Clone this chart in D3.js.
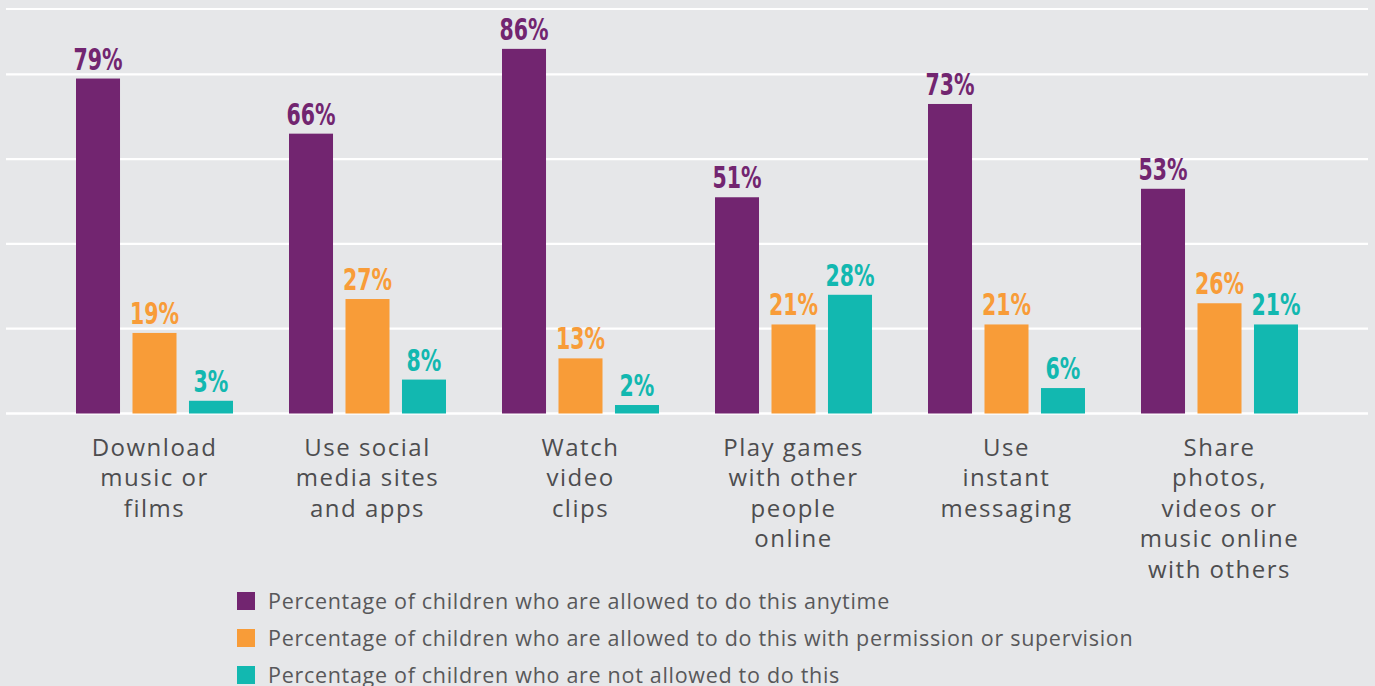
<!DOCTYPE html>
<html>
<head>
<meta charset="utf-8">
<script src="https://cdn.jsdelivr.net/npm/d3@7/dist/d3.min.js"></script>
<style>
  html, body { margin: 0; padding: 0; background: #e6e7e9; }
  svg { display: block; }
</style>
</head>
<body>
<svg id="chart" width="1375" height="686"></svg>
<script>
// Activities, each label split into display lines
const categories = [
  ["Download", "music or", "films"],
  ["Use social", "media sites", "and apps"],
  ["Watch", "video", "clips"],
  ["Play games", "with other", "people", "online"],
  ["Use", "instant", "messaging"],
  ["Share", "photos,", "videos or", "music online", "with others"]
];

const seriesNames = [
  "Percentage of children who are allowed to do this anytime",
  "Percentage of children who are allowed to do this with permission or supervision",
  "Percentage of children who are not allowed to do this"
];

const anytime     = [79, 66, 86, 51, 73, 53];
const supervised  = [19, 27, 13, 21, 21, 26];
const notAllowed  = [3, 8, 2, 28, 6, 21];

const gridValues = [0, 20, 40, 60, 80];

const colors = ["#722570", "#f89c38", "#12b8b0"];

const svg = d3.select("#chart");

const baseY = 413.5;
const frameTop = 9;
const y = d3.scaleLinear().domain([0, 100]).range([baseY, baseY - 424]);

const keys = categories.map((c, i) => i);
const x0 = d3.scaleBand().domain(keys).range([48, 1326])
  .paddingInner(0.263).paddingOuter(0.1315);
const x1 = d3.scaleBand().domain([0, 1, 2]).range([0, x0.bandwidth()])
  .paddingInner(0.221).paddingOuter(0);

const series = [anytime, supervised, notAllowed];

// Gridlines and top frame rule
const grid = svg.append("g");
grid.selectAll("line.grid")
  .data(gridValues)
  .join("line")
  .attr("x1", 6).attr("x2", 1368)
  .attr("y1", d => y(d)).attr("y2", d => y(d))
  .attr("stroke", "#ffffff")
  .attr("stroke-width", d => d === 0 ? 2.6 : 2.2);
grid.append("line")
  .attr("x1", 6).attr("x2", 1368)
  .attr("y1", frameTop).attr("y2", frameTop)
  .attr("stroke", "#ffffff").attr("stroke-width", 2.2);

// Bars and value labels
const groups = svg.append("g").selectAll("g")
  .data(keys)
  .join("g")
  .attr("transform", i => `translate(${x0(i)},0)`);

const cells = groups.selectAll("g.cell")
  .data(i => series.map((s, k) => ({ k, v: s[i] })))
  .join("g").attr("class", "cell");

cells.append("rect")
  .attr("x", d => x1(d.k))
  .attr("width", x1.bandwidth())
  .attr("y", d => y(d.v))
  .attr("height", d => y(0) - y(d.v))
  .attr("fill", d => colors[d.k]);

// Tall, narrow figures: condensed bold squeezed horizontally
cells.append("text")
  .attr("transform", d => `translate(${x1(d.k) + x1.bandwidth() / 2},${y(d.v) - 9}) scale(0.76,1)`)
  .attr("text-anchor", "middle")
  .attr("font-family", "'DejaVu Sans Condensed', 'DejaVu Sans', sans-serif")
  .attr("font-stretch", "condensed")
  .attr("font-weight", "bold")
  .attr("font-size", 30)
  .attr("fill", d => colors[d.k])
  .text(d => d.v + "%");

// Category labels under each group
const catLabels = svg.append("g").selectAll("text")
  .data(keys)
  .join("text")
  .attr("x", i => x0(i) + x0.bandwidth() / 2)
  .attr("y", 456)
  .attr("text-anchor", "middle")
  .attr("font-family", "'Open Sans', 'Noto Sans', sans-serif")
  .attr("font-size", 24)
  .attr("letter-spacing", 1.5)
  .attr("fill", "#4d4d4f");
catLabels.selectAll("tspan")
  .data(i => categories[i].map(line => ({ line, i })))
  .join("tspan")
  .attr("x", d => x0(d.i) + x0.bandwidth() / 2)
  .attr("dy", (d, j) => j === 0 ? 0 : 30.4)
  .text(d => d.line);

// Legend
const legend = svg.append("g").attr("transform", "translate(237,592)");
const items = legend.selectAll("g")
  .data(seriesNames)
  .join("g")
  .attr("transform", (d, k) => `translate(0,${k * 37})`);
items.append("rect")
  .attr("width", 18).attr("height", 18)
  .attr("fill", (d, k) => colors[k]);
items.append("text")
  .attr("x", 31).attr("y", 17)
  .attr("font-family", "'Open Sans', 'Noto Sans', sans-serif")
  .attr("font-size", 21.5)
  .attr("letter-spacing", 0.7)
  .attr("fill", "#58585a")
  .text(d => d);
</script>
</body>
</html>
